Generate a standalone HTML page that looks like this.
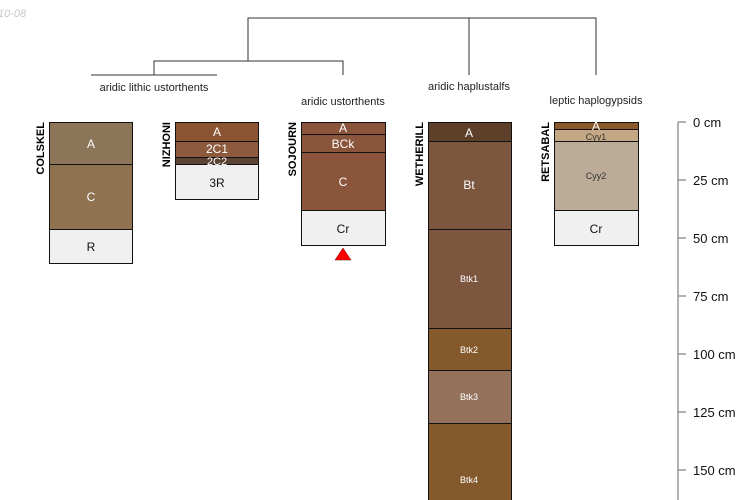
<!DOCTYPE html>
<html><head><meta charset="utf-8"><style>
html,body{margin:0;padding:0;background:#fff;}
svg{display:block;font-family:"Liberation Sans",sans-serif;}
</style></head><body>
<svg width="750" height="500" viewBox="0 0 750 500" xmlns="http://www.w3.org/2000/svg">
<text x="-2" y="17" font-size="11" font-style="italic" fill="#c8c8c8">10-08</text>
<g stroke="#333" stroke-width="1" fill="none">
<path d="M248 61V18H596V75M469 18V75M154 75V61H343V75M91 75H217"/>
</g>
<g font-size="11" fill="#222" text-anchor="middle">
<text x="154" y="91">aridic lithic ustorthents</text>
<text x="343" y="105">aridic ustorthents</text>
<text x="469" y="90">aridic haplustalfs</text>
<text x="596" y="104">leptic haplogypsids</text>
</g>
<g stroke="#111" stroke-width="1">
<rect x="49.5" y="122.5" width="83" height="42" fill="#8c7559"/>
<rect x="49.5" y="164.5" width="83" height="65" fill="#8f7350"/>
<rect x="49.5" y="229.5" width="83" height="34" fill="#f0f0f0"/>
<rect x="175.5" y="122.5" width="83" height="19" fill="#8b5533"/>
<rect x="175.5" y="141.5" width="83" height="16" fill="#8d5a3e"/>
<rect x="175.5" y="157.5" width="83" height="7" fill="#5c4333"/>
<rect x="175.5" y="164.5" width="83" height="35" fill="#f0f0f0"/>
<rect x="301.5" y="122.5" width="84" height="12" fill="#8b553b"/>
<rect x="301.5" y="134.5" width="84" height="18" fill="#8b553b"/>
<rect x="301.5" y="152.5" width="84" height="58" fill="#8b553b"/>
<rect x="301.5" y="210.5" width="84" height="35" fill="#f0f0f0"/>
<rect x="428.5" y="122.5" width="83" height="19" fill="#5d3f2a"/>
<rect x="428.5" y="141.5" width="83" height="88" fill="#7d5640"/>
<rect x="428.5" y="229.5" width="83" height="99" fill="#7d5640"/>
<rect x="428.5" y="328.5" width="83" height="42" fill="#845a2c"/>
<rect x="428.5" y="370.5" width="83" height="53" fill="#94715a"/>
<rect x="428.5" y="423.5" width="83" height="90" fill="#845a2c"/>
<rect x="554.5" y="122.5" width="84" height="7" fill="#8b5a2b"/>
<rect x="554.5" y="129.5" width="84" height="12" fill="#c4a886"/>
<rect x="554.5" y="141.5" width="84" height="69" fill="#bcab96"/>
<rect x="554.5" y="210.5" width="84" height="35" fill="#f0f0f0"/>
</g>
<polygon points="343,248 351,260 335,260" fill="#f00" stroke="#600" stroke-width="0.5"/>
<g font-size="12" text-anchor="middle" fill="#fff">
<text x="91" y="148">A</text>
<text x="91" y="201">C</text>
<text x="91" y="251" fill="#111">R</text>
<text x="217" y="136">A</text>
<text x="217" y="153">2C1</text>
<text x="217" y="165" font-size="11">2C2</text>
<text x="217" y="187" fill="#111">3R</text>
<text x="343" y="132">A</text>
<text x="343" y="148">BCk</text>
<text x="343" y="186">C</text>
<text x="343" y="233" fill="#111">Cr</text>
<text x="469" y="137">A</text>
<text x="469" y="189">Bt</text>
<text x="469" y="282" font-size="9">Btk1</text>
<text x="469" y="353" font-size="9">Btk2</text>
<text x="469" y="400" font-size="9">Btk3</text>
<text x="469" y="483" font-size="9">Btk4</text>
<text x="596" y="130">A</text>
<text x="596" y="140" font-size="9" fill="#333">Cyy1</text>
<text x="596" y="179" font-size="9" fill="#333">Cyy2</text>
<text x="596" y="233" fill="#111">Cr</text>
</g>
<g font-size="11" font-weight="bold" fill="#000">
<text transform="translate(44,122) rotate(-90)" text-anchor="end">COLSKEL</text>
<text transform="translate(170,122) rotate(-90)" text-anchor="end">NIZHONI</text>
<text transform="translate(296,122) rotate(-90)" text-anchor="end">SOJOURN</text>
<text transform="translate(423,122) rotate(-90)" text-anchor="end">WETHERILL</text>
<text transform="translate(549,122) rotate(-90)" text-anchor="end">RETSABAL</text>
</g>
<g stroke="#888" stroke-width="1.3">
<line x1="678" y1="122" x2="678" y2="500"/>
<line x1="678" y1="122" x2="686" y2="122"/>
<line x1="678" y1="180" x2="686" y2="180"/>
<line x1="678" y1="238" x2="686" y2="238"/>
<line x1="678" y1="296" x2="686" y2="296"/>
<line x1="678" y1="354" x2="686" y2="354"/>
<line x1="678" y1="412" x2="686" y2="412"/>
<line x1="678" y1="470" x2="686" y2="470"/>
</g>
<g font-size="13" fill="#111">
<text x="693" y="127">0 cm</text>
<text x="693" y="185">25 cm</text>
<text x="693" y="243">50 cm</text>
<text x="693" y="301">75 cm</text>
<text x="693" y="359">100 cm</text>
<text x="693" y="417">125 cm</text>
<text x="693" y="475">150 cm</text>
</g>
</svg>
</body></html>
